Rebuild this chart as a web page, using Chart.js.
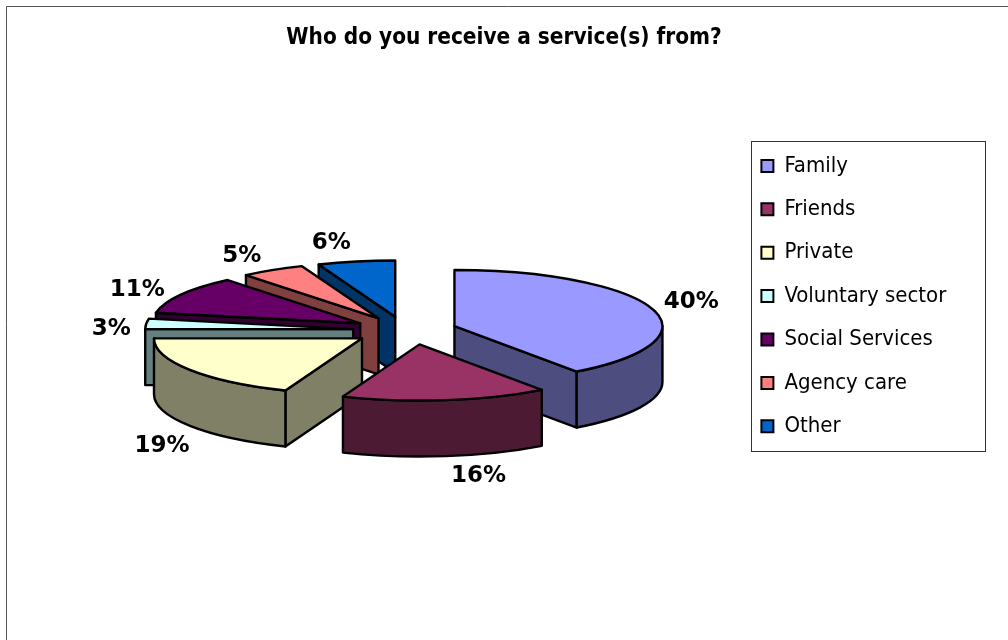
<!DOCTYPE html>
<html>
<head>
<meta charset="utf-8">
<title>Who do you receive a service(s) from?</title>
<script src="https://cdn.jsdelivr.net/npm/chart.js@4"></script>
<style>
    html, body { margin: 0; background: #fff; }
    canvas { display: block; }
</style>
</head>
<body>
<canvas id="serviceChart" width="1008" height="640"></canvas>
<script>
// Chart data
const categories = ['Family', 'Friends', 'Private', 'Voluntary sector', 'Social Services', 'Agency care', 'Other'];
const seriesValues = [40, 16, 19, 3, 11, 5, 6];
const topColors = ['#9999FF', '#993366', '#FFFFCC', '#CCFFFF', '#660066', '#FF8080', '#0066CC'];
const sideColors = ['#4D4D80', '#4D1A33', '#808066', '#668080', '#330033', '#804040', '#003366'];

// Slices are painted back to front so the nearer ones cover the rest
const paintOrder = [6, 5, 4, 3, 2, 0, 1];
// Nudge of each percent label away from the slice edge
const labelNudges = [[39, -7], [33, 20], [-28, 20], [-35, 5], [-44, -5], [-31, -14], [-25, -18]];
// Extra sideways pull on top of the common explode distance
const sliceNudges = [0, 8, 0, 0, 0, 0, 0];

const FONT = '"DejaVu Sans Condensed", "DejaVu Sans", sans-serif';
const TILT = 0.27;
const DEPTH = 56;
const EXPLODE = 52;

function sliceGeometry(arc, index) {
    const { x, y, startAngle, endAngle, outerRadius } = arc.getProps(['x', 'y', 'startAngle', 'endAngle', 'outerRadius'], true);
    const mid = (startAngle + endAngle) / 2;
    return {
        x, y, startAngle, endAngle, mid,
        rx: outerRadius,
        ry: outerRadius * TILT,
        vx: x + Math.cos(mid) * EXPLODE + sliceNudges[index],
        vy: y + Math.sin(mid) * EXPLODE * TILT
    };
}

// Flat wall running from the slice tip out to the rim at the given angle
function drawRadialWall(ctx, g, angle) {
    const px = g.vx + Math.cos(angle) * g.rx;
    const py = g.vy + Math.sin(angle) * g.ry;
    ctx.beginPath();
    ctx.moveTo(g.vx, g.vy);
    ctx.lineTo(px, py);
    ctx.lineTo(px, py + DEPTH);
    ctx.lineTo(g.vx, g.vy + DEPTH);
    ctx.closePath();
    ctx.fill();
    ctx.stroke();
}

function drawSlice(ctx, arc, index) {
    const g = sliceGeometry(arc, index);
    ctx.save();
    ctx.lineWidth = 2.4;
    ctx.lineJoin = 'round';
    ctx.strokeStyle = '#000';
    ctx.fillStyle = sideColors[index];

    if (Math.cos(g.startAngle) < 0) drawRadialWall(ctx, g, g.startAngle);
    if (Math.cos(g.endAngle) > 0) drawRadialWall(ctx, g, g.endAngle);

    // Curved rim, only the part that faces the viewer
    const from = Math.max(g.startAngle, 0);
    const to = Math.min(g.endAngle, Math.PI);
    if (to > from) {
        ctx.beginPath();
        ctx.ellipse(g.vx, g.vy, g.rx, g.ry, 0, from, to);
        ctx.ellipse(g.vx, g.vy + DEPTH, g.rx, g.ry, 0, to, from, true);
        ctx.closePath();
        ctx.fill();
        ctx.stroke();
    }

    // Top face: the library's own arc, flattened and moved out
    ctx.save();
    ctx.translate(g.vx, g.vy);
    ctx.scale(1, TILT);
    ctx.translate(-g.x, -g.y);
    arc.draw(ctx);
    ctx.restore();

    ctx.beginPath();
    ctx.moveTo(g.vx, g.vy);
    ctx.ellipse(g.vx, g.vy, g.rx, g.ry, 0, g.startAngle, g.endAngle);
    ctx.closePath();
    ctx.stroke();
    ctx.restore();
}

function drawPercentLabel(ctx, arc, index) {
    const g = sliceGeometry(arc, index);
    const drop = Math.sin(g.mid) > 0 ? DEPTH : 0;
    const nudge = labelNudges[index];
    ctx.save();
    ctx.font = 'bold 23px "DejaVu Sans", sans-serif';
    ctx.fillStyle = '#000';
    ctx.textAlign = 'center';
    ctx.textBaseline = 'middle';
    ctx.fillText(seriesValues[index] + '%',
        g.vx + Math.cos(g.mid) * g.rx + nudge[0],
        g.vy + Math.sin(g.mid) * g.ry + drop + nudge[1]);
    ctx.restore();
}

const solidPie = {
    id: 'solidPie',
    afterLayout(chart) {
        // Title stays centred on the whole page, legend sits in its own box
        chart.titleBlock.left = 0;
        chart.titleBlock.right = chart.width;
        const legend = chart.legend;
        legend.left = 740;
        legend.right = 985;
        legend.top = 133.5;
        legend.bottom = chart.height;
        legend.adjustHitBoxes();
    },
    beforeDraw(chart) {
        const ctx = chart.ctx;
        ctx.save();
        ctx.strokeStyle = '#555';
        ctx.lineWidth = 1;
        ctx.beginPath();
        ctx.moveTo(6.5, chart.height);
        ctx.lineTo(6.5, 6.5);
        ctx.lineTo(chart.width, 6.5);
        ctx.stroke();
        ctx.strokeStyle = '#333';
        ctx.strokeRect(751.5, 141.5, 234, 310);
        ctx.restore();
    },
    beforeDatasetDraw(chart, args) {
        const arcs = args.meta.data;
        paintOrder.forEach(i => drawSlice(chart.ctx, arcs[i], i));
        paintOrder.forEach(i => drawPercentLabel(chart.ctx, arcs[i], i));
        return false;
    }
};

new Chart(document.getElementById('serviceChart').getContext('2d'), {
    type: 'pie',
    data: {
        labels: categories,
        datasets: [{
            data: seriesValues,
            backgroundColor: topColors,
            borderWidth: 0,
            radius: 208
        }]
    },
    plugins: [solidPie],
    options: {
        responsive: false,
        animation: false,
        layout: { padding: { right: 198, bottom: 37 } },
        plugins: {
            tooltip: { enabled: false },
            title: {
                display: true,
                text: 'Who do you receive a service(s) from?',
                color: '#000',
                font: { family: FONT, size: 22.4, weight: 'bold' },
                padding: { top: 25, bottom: 6 }
            },
            legend: {
                position: 'chartArea',
                align: 'start',
                labels: {
                    color: '#000',
                    boxWidth: 12,
                    boxHeight: 12,
                    padding: 21.4,
                    font: { family: FONT, size: 22 },
                    generateLabels(chart) {
                        return Chart.overrides.pie.plugins.legend.labels.generateLabels(chart)
                            .map(item => ({ ...item, lineWidth: 2, strokeStyle: '#000' }));
                    }
                }
            }
        }
    }
});
</script>
</body>
</html>
